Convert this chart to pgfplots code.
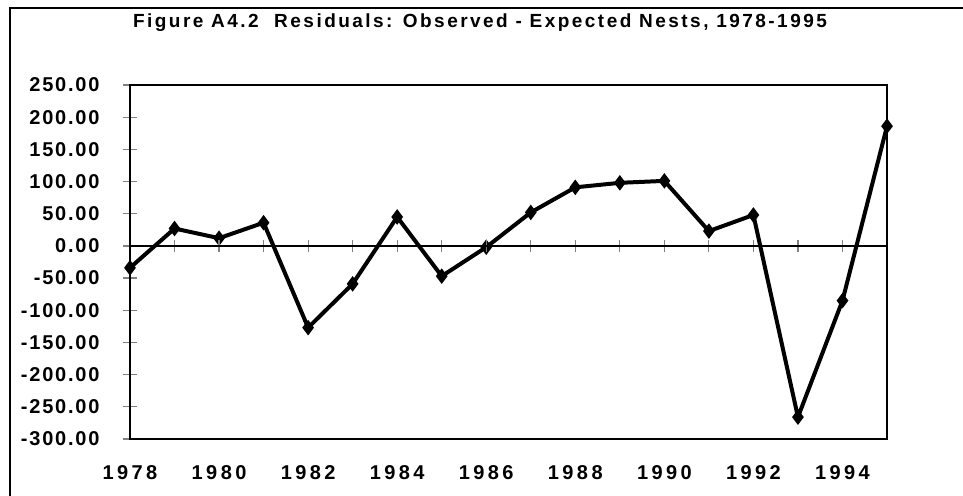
\documentclass[border=0pt]{standalone}
\usepackage{fontspec}
\setmainfont{Liberation Sans}
\newfontfamily\tickfont[LetterSpace=17]{Liberation Sans Bold}
\newfontfamily\ytickfont[LetterSpace=9]{Liberation Sans Bold}
\newfontfamily\titlefont[LetterSpace=13]{Liberation Sans Bold}
\usepackage{pgfplots}
\pgfplotsset{compat=1.18}
\begin{document}
\begin{tikzpicture}[x=1bp,y=1bp]
\useasboundingbox (0,0) rectangle (963,496);
\draw[line width=1.2bp] (10,0) -- (10,488) -- (963,488);
\node[font=\titlefont\fontsize{19bp}{22bp}\selectfont] at (480,473) {Figure A4.2\ \ Residuals: Observed - Expected Nests, 1978-1995};
\begin{axis}[
  at={(130bp,57bp)}, anchor=south west, scale only axis,
  width=757bp, height=354bp,
  xmin=1978, xmax=1995, ymin=-300, ymax=250,
  axis line style={line width=1.3bp},
  xtick={1978,1980,...,1994},
  xticklabels={1978,1980,1982,1984,1986,1988,1990,1992,1994},
  xtick style={draw=none},
  ytick={-300,-250,...,250},
  ytick pos=left,
  yticklabels={-300.00,-250.00,-200.00,-150.00,-100.00,-50.00,0.00,50.00,100.00,150.00,200.00,250.00},
  ytick style={line width=1.2bp},
  tick align=center, major tick length=14bp,
  xticklabel style={font=\tickfont\fontsize{20bp}{22bp}\selectfont, yshift=-16bp},
  yticklabel style={font=\ytickfont\fontsize{20bp}{22bp}\selectfont, anchor=east, xshift=-20bp},
  clip=false,
]
\addplot[black, line width=4bp, mark=diamond*, mark size=4.5bp] coordinates {
(1978,-34) (1979,27) (1980,12) (1981,36) (1982,-127) (1983,-59) (1984,45)
(1985,-47) (1986,-2) (1987,52) (1988,91) (1989,98) (1990,101) (1991,23)
(1992,48) (1993,-266) (1994,-85) (1995,186)
};
\end{axis}
\begin{axis}[
  at={(130bp,57bp)}, anchor=south west, scale only axis,
  width=757bp, height=354bp,
  xmin=1978, xmax=1995, ymin=-300, ymax=250,
  axis x line=middle, axis y line=none,
  axis line style={-, line width=1.3bp},
  xtick={1979,1980,...,1994}, xticklabels={},
  xtick style={line width=1.2bp},
  tick align=center, major tick length=12bp,
]
\end{axis}
\end{tikzpicture}
\end{document}
